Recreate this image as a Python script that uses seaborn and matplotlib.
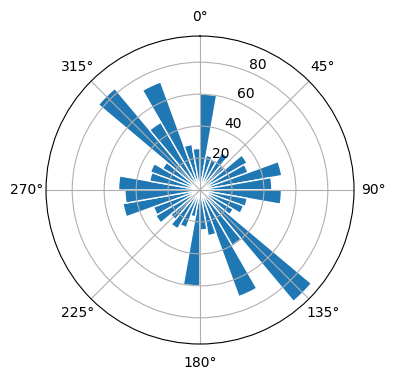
import numpy as np
import pandas as pd
import matplotlib
matplotlib.use("Agg")
import matplotlib.pyplot as plt
import seaborn as sns

# direction bins (degrees, start of each 10-degree sector, clockwise from north)
directions = list(range(0, 360, 10))
counts = [60, 22, 20, 27, 20, 34, 32, 52, 45,
          51, 30, 29, 24, 91, 40, 71, 29, 25,
          60, 17, 25, 28, 24, 32, 31, 49, 47,
          51, 32, 33, 27, 83, 49, 72, 29, 26]
angle_labels = ["0°", "45°", "90°", "135°", "180°", "225°", "270°", "315°"]

df = pd.DataFrame({
    "theta": np.deg2rad(np.array(directions) + 5.0),
    "count": counts,
})

fig = plt.figure(figsize=(3.96, 3.80), dpi=100)
ax = fig.add_axes([0.1162, 0.0947, 0.7778, 0.8105], projection="polar")
ax.set_theta_zero_location("N")
ax.set_theta_direction(-1)

sns.barplot(data=df, x="theta", y="count", native_scale=True, width=1.0,
            color="#1f77b4", saturation=1, edgecolor="white", linewidth=1,
            errorbar=None, ax=ax)
ax.set_xlabel("")
ax.set_ylabel("")
ax.set_thetagrids(np.arange(0, 360, 45), angle_labels)
ax.set_rlim(0, 96.4)
ax.set_rticks([20, 40, 60, 80])
ax.grid(True)

fig.savefig("out.png", dpi=100)
